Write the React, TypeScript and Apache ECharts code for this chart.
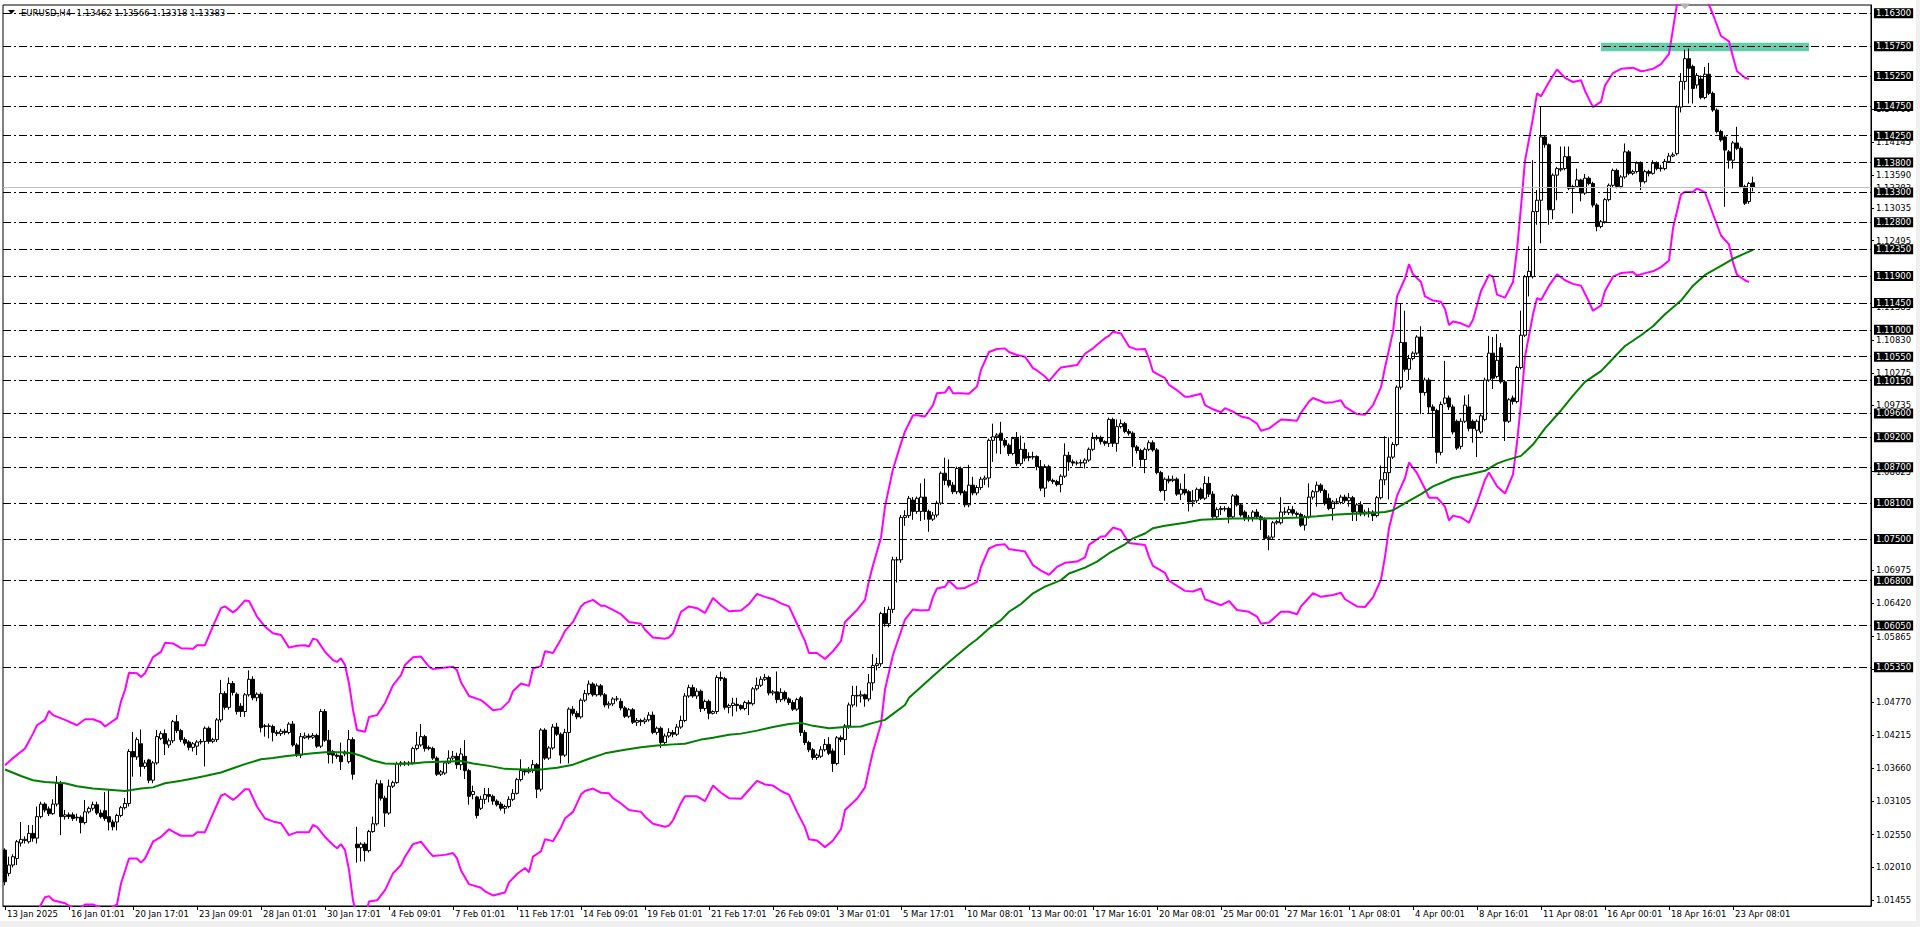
import React, { useEffect, useRef } from "react";
import * as echarts from "echarts";

// ---------- DATA ----------
const TOTAL_SLOTS = 467; // bar slots on the time axis (incl. empty right margin)

const xTickLabels = [
  "13 Jan 2025", "16 Jan 01:01", "20 Jan 17:01", "23 Jan 09:01", "28 Jan 01:01", "30 Jan 17:01",
  "4 Feb 09:01", "7 Feb 01:01", "11 Feb 17:01", "14 Feb 09:01", "19 Feb 01:01", "21 Feb 17:01",
  "26 Feb 09:01", "3 Mar 01:01", "5 Mar 17:01", "10 Mar 08:01", "13 Mar 00:01", "17 Mar 16:01",
  "20 Mar 08:01", "25 Mar 00:01", "27 Mar 16:01", "1 Apr 08:01", "4 Apr 00:01", "8 Apr 16:01",
  "11 Apr 08:01", "16 Apr 00:01", "18 Apr 16:01", "23 Apr 08:01",
];

const priceTicks = [
  1.01455, 1.0201, 1.0255, 1.03105, 1.0366, 1.04215, 1.0477, 1.05325, 1.05865, 1.0642, 1.06975,
  1.08625, 1.09735, 1.10275, 1.1083, 1.11385, 1.12495, 1.13035, 1.1359, 1.14145, 1.147,
];

const levelLines = [
  1.163, 1.1575, 1.1525, 1.1475, 1.1425, 1.138, 1.133, 1.128, 1.1235, 1.119, 1.1145, 1.11,
  1.1055, 1.1015, 1.096, 1.092, 1.087, 1.081, 1.075, 1.068, 1.0605, 1.0535,
];

const bidPrice = 1.13383;
const titleText = "EURUSD,H4  1.13462 1.13566 1.13318 1.13383";

// OHLC per H4 bar, [open, close, low, high] in 1e-4 price units
const ohlcA = [
  [10229,10176,10170,10232],[10190,10204,10185,10218],[10204,10218,10200,10222],[10215,10243,10204,10246],
  [10241,10247,10235,10276],[10245,10247,10240,10252],[10243,10257,10240,10271],[10257,10249,10243,10271],
  [10249,10285,10240,10302],[10285,10306,10282,10310],[10306,10296,10292,10309],[10298,10290,10286,10302],
  [10290,10306,10288,10314],[10306,10341,10302,10353],[10341,10285,10254,10345],[10285,10288,10280,10296],
  [10288,10285,10281,10292],[10288,10282,10278,10292],[10284,10283,10278,10290],[10284,10275,10257,10287],
  [10275,10293,10272,10313],[10293,10299,10290,10302],[10299,10305,10295,10310],[10305,10291,10288,10310],
  [10291,10285,10282,10297],[10295,10282,10278,10326],[10285,10276,10262,10329],[10276,10268,10262,10280],
  [10276,10287,10262,10290],[10287,10300,10284,10303],[10300,10307,10297,10316],[10307,10394,10302,10398],
  [10394,10385,10352,10427],[10385,10414,10380,10418],[10407,10369,10352,10431],[10369,10375,10365,10380],
  [10380,10346,10341,10382],[10346,10375,10341,10378],[10375,10419,10372,10430],[10416,10424,10413,10428],
  [10424,10407,10388,10431],[10405,10412,10400,10416],[10412,10444,10408,10447],[10444,10429,10425,10455],
  [10429,10414,10410,10432],[10414,10408,10404,10418],[10410,10401,10396,10413],[10401,10407,10394,10410],
  [10403,10410,10388,10413],[10410,10411,10406,10415],[10411,10433,10369,10436],[10433,10411,10407,10436],
  [10411,10414,10408,10417],[10414,10447,10410,10450],[10447,10491,10443,10514],[10491,10468,10464,10495],
  [10468,10508,10464,10518],[10508,10493,10488,10512],[10490,10461,10456,10493],[10470,10461,10452,10475],
  [10461,10489,10452,10492],[10489,10515,10486,10530],[10515,10484,10480,10520],[10484,10490,10478,10493],
  [10490,10434,10426,10493],[10437,10436,10419,10440],[10436,10437,10416,10441],[10436,10426,10411,10439],
  [10426,10424,10420,10430],[10424,10428,10420,10432],[10428,10426,10422,10432],[10426,10440,10423,10443],
  [10440,10405,10402,10445],[10405,10388,10385,10408],[10388,10419,10383,10425],[10417,10420,10415,10426],
  [10420,10418,10414,10424],[10418,10421,10415,10425],[10421,10403,10400,10424],[10403,10461,10400,10465],
  [10461,10413,10410,10465],[10413,10389,10374,10430],[10394,10388,10374,10397],[10388,10386,10382,10391],
  [10387,10377,10363,10409],[10390,10393,10386,10396],[10377,10414,10374,10430],[10414,10356,10347,10418],
  [10239,10233,10208,10268],[10233,10239,10210,10242],[10239,10228,10210,10242],[10228,10260,10225,10263],
  [10260,10273,10258,10285],[10273,10340,10270,10347],[10340,10316,10312,10346],[10316,10291,10268,10320],
  [10291,10336,10288,10347],[10336,10342,10333,10345],[10342,10374,10340,10377],[10374,10375,10369,10378],
  [10375,10374,10370,10378],[10374,10375,10370,10378],[10375,10399,10372,10402],[10399,10405,10396,10427],
  [10405,10419,10402,10440],[10419,10399,10394,10422],[10399,10401,10396,10404],[10399,10383,10380,10402],
  [10383,10356,10353,10386],[10356,10360,10353,10363],[10358,10375,10355,10378],[10375,10383,10373,10396],
];

const ohlcB = [
  [10383,10386,10380,10395],[10386,10372,10365,10392],[10372,10390,10363,10400],[10386,10362,10348,10413],
  [10362,10319,10305,10365],[10322,10327,10314,10337],[10318,10287,10282,10320],[10299,10314,10296,10320],
  [10314,10322,10306,10333],[10322,10319,10309,10333],[10319,10311,10305,10322],[10311,10305,10302,10314],
  [10306,10299,10295,10310],[10299,10302,10290,10305],[10302,10314,10299,10319],[10314,10324,10311,10331],
  [10324,10347,10322,10350],[10347,10362,10344,10381],[10362,10360,10354,10365],[10360,10362,10357,10368],
  [10362,10372,10358,10380],[10372,10331,10316,10375],[10331,10430,10327,10433],[10430,10383,10380,10433],
  [10383,10400,10380,10403],[10400,10435,10397,10440],[10435,10423,10420,10442],[10423,10388,10374,10426],
  [10388,10426,10385,10432],[10426,10465,10374,10468],[10465,10458,10454,10470],[10458,10452,10448,10462],
  [10452,10480,10449,10483],[10480,10491,10477,10497],[10491,10507,10488,10513],[10507,10489,10486,10510],
  [10489,10504,10486,10508],[10504,10489,10486,10507],[10489,10472,10468,10492],[10472,10474,10466,10478],
  [10474,10482,10470,10485],[10482,10482,10478,10487],[10478,10467,10463,10483],[10467,10453,10450,10470],
  [10453,10464,10450,10467],[10464,10443,10440,10467],[10443,10446,10437,10450],[10446,10444,10437,10449],
  [10444,10447,10440,10451],[10447,10455,10444,10460],[10455,10426,10423,10461],[10426,10433,10422,10436],
  [10433,10409,10400,10436],[10409,10420,10405,10424],[10420,10426,10417,10433],[10426,10423,10418,10430],
  [10423,10435,10420,10440],[10435,10446,10432,10454],[10446,10487,10443,10492],[10487,10501,10484,10506],
  [10501,10487,10484,10506],[10487,10495,10482,10500],[10495,10466,10460,10498],[10466,10478,10462,10481],
  [10478,10458,10448,10481],[10458,10461,10456,10463],[10461,10518,10457,10522],[10518,10516,10512,10528],
  [10516,10468,10464,10519],[10468,10471,10458,10474],[10471,10475,10453,10484],[10473,10471,10461,10484],
  [10471,10466,10463,10473],[10466,10476,10463,10479],[10476,10474,10455,10480],[10474,10499,10471,10502],
  [10499,10505,10496,10518],[10505,10515,10502,10520],[10515,10518,10512,10524],[10518,10492,10488,10521],
  [10492,10494,10488,10497],[10494,10481,10475,10528],[10481,10493,10477,10500],[10493,10482,10478,10496],
  [10482,10476,10472,10485],[10476,10465,10462,10480],[10465,10481,10462,10484],[10484,10426,10420,10487],
  [10426,10409,10405,10430],[10409,10397,10393,10412],[10397,10384,10380,10400],[10384,10388,10380,10391],
  [10386,10397,10383,10403],[10397,10406,10394,10415],[10406,10391,10388,10418],[10395,10374,10360,10399],
  [10374,10417,10371,10420],[10417,10414,10410,10421],[10414,10437,10388,10440],[10437,10472,10432,10476],
  [10472,10488,10468,10504],[10488,10487,10469,10504],[10487,10489,10476,10496],[10489,10482,10469,10491],
  [10482,10509,10478,10524],[10509,10538,10496,10557],[10538,10541,10530,10551],[10541,10625,10536,10628],
  [10625,10608,10603,10636],[10608,10632,10602,10637],[10632,10715,10626,10720],[10715,10715,10677,10720],
  [10715,10786,10710,10790],[10786,10789,10772,10798],[10789,10818,10785,10822],
];

const ohlcC = [
  [10815,10796,10782,10820],[10796,10818,10792,10821],[10796,10820,10780,10843],[10820,10796,10782,10851],
  [10796,10783,10762,10799],[10783,10790,10780,10795],[10790,10810,10786,10814],[10810,10860,10807,10863],
  [10860,10848,10840,10886],[10848,10840,10836,10883],[10840,10829,10825,10845],[10829,10868,10825,10871],
  [10868,10827,10823,10871],[10829,10807,10803,10832],[10807,10840,10803,10874],[10840,10827,10823,10854],
  [10827,10836,10823,10840],[10836,10850,10832,10854],[10850,10852,10840,10856],[10852,10915,10836,10918],
  [10915,10921,10879,10943],[10921,10924,10893,10927],[10927,10915,10892,10946],[10915,10907,10903,10919],
  [10907,10893,10889,10910],[10893,10918,10890,10921],[10918,10876,10872,10929],[10876,10900,10872,10923],
  [10900,10885,10880,10911],[10888,10886,10880,10895],[10887,10888,10883,10896],[10888,10871,10865,10890],
  [10871,10835,10830,10882],[10835,10871,10820,10875],[10871,10848,10845,10874],[10848,10846,10842,10851],
  [10846,10841,10838,10849],[10841,10855,10828,10858],[10855,10890,10852,10910],[10890,10879,10864,10896],
  [10879,10877,10872,10883],[10877,10877,10873,10881],[10877,10878,10871,10883],[10877,10882,10868,10885],
  [10882,10900,10879,10903],[10900,10918,10897,10928],[10918,10920,10915,10924],[10920,10913,10908,10923],
  [10913,10910,10906,10915],[10910,10950,10904,10953],[10950,10910,10904,10953],[10910,10938,10896,10950],
  [10938,10943,10935,10950],[10943,10930,10927,10946],[10930,10927,10923,10934],[10927,10904,10871,10930],
  [10904,10898,10893,10907],[10898,10883,10871,10901],[10883,10900,10860,10903],[10900,10911,10897,10915],
  [10911,10899,10896,10915],[10899,10861,10858,10902],[10861,10831,10828,10864],[10831,10850,10814,10853],
  [10850,10847,10843,10856],[10848,10850,10845,10856],[10850,10825,10822,10853],[10825,10833,10815,10843],
  [10833,10827,10823,10859],[10829,10812,10796,10832],[10812,10814,10804,10832],[10814,10833,10810,10836],
  [10833,10818,10815,10836],[10818,10843,10815,10855],[10843,10825,10820,10854],[10825,10787,10783,10830],
  [10787,10799,10782,10803],[10799,10801,10790,10805],[10800,10801,10796,10805],[10801,10787,10776,10804],
  [10787,10822,10784,10825],[10822,10807,10804,10825],[10807,10790,10787,10810],[10795,10784,10780,10798],
  [10784,10786,10779,10790],[10786,10795,10779,10798],[10795,10787,10783,10800],[10787,10782,10765,10790],
  [10782,10751,10748,10786],[10751,10753,10731,10756],[10753,10777,10750,10780],[10777,10779,10774,10782],
  [10777,10795,10774,10820],[10795,10795,10790,10803],[10794,10799,10790,10805],[10799,10793,10789,10805],
  [10793,10791,10786,10796],[10791,10773,10770,10794],[10773,10787,10764,10790],[10787,10820,10784,10843],
  [10820,10829,10816,10832],[10829,10840,10804,10846],[10840,10831,10827,10843],[10831,10809,10806,10834],
  [10818,10801,10798,10826],[10801,10812,10781,10815],[10812,10812,10808,10818],
];

const ohlcD = [
  [10811,10820,10808,10824],[10820,10814,10810,10824],[10814,10819,10804,10827],[10819,10795,10780,10822],
  [10795,10807,10780,10810],[10807,10792,10788,10813],[10792,10795,10788,10799],[10795,10795,10786,10802],
  [10795,10789,10780,10798],[10789,10819,10786,10822],[10819,10849,10816,10873],[10849,10861,10840,10922],
  [10861,10887,10816,10920],[10887,10908,10884,10912],[10908,11004,10905,11007],[11004,11079,11000,11144],
  [11079,11034,11030,11132],[11034,11052,11016,11058],[11052,11061,11049,11064],[11061,11088,11058,11091],
  [11088,10995,10959,11106],[10995,11016,10990,11020],[11016,10971,10959,11020],[10971,10965,10920,10975],
  [10965,10895,10876,10968],[10895,10975,10890,10980],[10977,10986,10975,11048],[10986,10971,10966,10990],
  [10971,10929,10925,10975],[10947,10902,10899,10950],[10905,10947,10900,10952],[10947,10974,10944,10990],
  [10971,10935,10930,10992],[10947,10935,10911,10950],[10932,10947,10887,10950],[10929,10956,10926,10960],
  [10950,11016,10947,11020],[11016,11061,11013,11090],[11061,11019,11001,11088],[11022,11049,11019,11093],
  [11070,11013,11010,11078],[11013,10947,10914,11016],[10947,10983,10944,10986],[10986,10980,10975,10990],
  [10980,11037,10977,11040],[11037,11091,11034,11132],[11091,11189,11088,11192],[11189,11198,11156,11240],
  [11189,11298,11186,11384],[11298,11317,11276,11334],[11317,11423,11245,11474],[11423,11410,11405,11426],
  [11410,11301,11276,11412],[11301,11359,11285,11362],[11359,11370,11317,11373],[11368,11370,11365,11407],
  [11370,11390,11367,11407],[11390,11337,11334,11407],[11337,11340,11295,11343],[11340,11351,11338,11370],
  [11351,11329,11315,11353],[11329,11354,11326,11361],[11354,11345,11342,11357],[11345,11309,11305,11348],
  [11309,11273,11265,11312],[11273,11281,11270,11284],[11281,11318,11278,11321],[11318,11342,11315,11345],
  [11342,11367,11339,11370],[11367,11340,11337,11370],[11340,11356,11337,11359],[11356,11398,11353,11412],
  [11398,11362,11359,11401],[11362,11365,11359,11368],[11365,11379,11362,11382],[11379,11348,11334,11382],
  [11348,11365,11345,11368],[11365,11362,11357,11368],[11362,11379,11360,11384],[11379,11370,11367,11382],
  [11370,11371,11365,11376],[11370,11382,11367,11386],[11382,11391,11380,11396],[11391,11393,11389,11397],
  [11395,11473,11392,11476],[11473,11516,11464,11530],[11516,11554,11502,11569],[11554,11538,11479,11571],
  [11541,11504,11479,11544],[11510,11526,11504,11530],[11520,11489,11486,11526],[11489,11528,11486,11540],
  [11528,11496,11493,11547],[11496,11468,11465,11499],[11468,11432,11429,11471],[11432,11418,11415,11435],
  [11423,11401,11306,11426],[11398,11384,11370,11401],[11384,11413,11370,11416],[11413,11404,11401,11440],
  [11404,11340,11337,11407],[11340,11312,11309,11343],[11315,11345,11311,11348],[11346.2,11338.3,11331.8,11356.6],
];

// Moving average (green), [bar, value in 1e-4]
const maLine = [
  [0,10364],[4,10353],[7,10346],[10,10343],[15,10341],[18,10336],[22,10332],[26,10330],[30,10328],[34,10332],
  [37,10334],[40,10341],[44,10345],[47,10349],[50,10353],[54,10359],[57,10366],[60,10373],[64,10381],[67,10383],
  [70,10386],[74,10389],[77,10391],[80,10393],[84,10393],[87,10391],[89,10387],[92,10379],[95,10374],[99,10373],
  [102,10374],[105,10376],[109,10377],[114,10378],[117,10374],[121,10370],[125,10365],[130,10364],[134,10364],
  [138,10367],[142,10372],[146,10382],[150,10391],[155,10397],[159,10401],[163,10404],[167,10406],[170,10407],
  [174,10414],[177,10417],[181,10422],[184,10424],[188,10429],[192,10435],[196,10440],[199,10442],[202,10437],
  [206,10433],[210,10435],[214,10436],[217,10442],[220,10447],[222,10457],[225,10472],[226,10484],[231,10514],
  [236,10544],[241,10572],[243,10582],[246,10600],[249,10614],[251,10628],[254,10641],[257,10659],[260,10670],
  [264,10681],[266,10692],[270,10702],[273,10712],[276,10726],[280,10741],[282,10751],[285,10759],[287,10768],
  [290,10772],[295,10777],[299,10782],[302,10783],[307,10784],[315,10784],[324,10786],[328,10788],[333,10791],
  [337,10792],[341,10793],[345,10795],[347,10798],[350,10810],[354,10825],[357,10838],[362,10852],[366,10858],
  [370,10864],[373,10876],[375,10881],[379,10889],[382,10908],[385,10935],[389,10965],[392,10990],[395,11013],
  [399,11031],[402,11052],[405,11073],[409,11091],[412,11106],[415,11126],[419,11149],[422,11174],[425,11192],
  [429,11207],[432,11219],[435,11228],[437,11234],
];

// Upper envelope (magenta), [bar, value in 1e-4]
const upperBand = [
  [0,10371],[2,10383],[5,10399],[7,10424],[8,10438],[10,10447],[11,10462],[12,10455],[15,10447],[18,10438],
  [20,10448],[22,10448],[24,10443],[25,10436],[28,10450],[29,10478],[30,10497],[31,10526],[33,10525],[34,10519],
  [35,10525],[37,10552],[39,10561],[40,10576],[42,10575],[44,10567],[47,10566],[48,10572],[50,10572],[52,10604],
  [54,10634],[55,10637],[57,10627],[58,10632],[60,10647],[61,10646],[63,10620],[65,10603],[67,10592],[69,10589],
  [71,10568],[73,10571],[75,10572],[76,10570],[77,10583],[78,10581],[80,10561],[82,10547],[83,10544],[84,10550],
  [85,10539],[86,10508],[87,10464],[88,10430],[90,10427],[91,10452],[93,10455],[95,10475],[97,10505],[99,10522],
  [100,10539],[102,10552],[104,10553],[106,10536],[107,10532],[109,10534],[112,10536],[113,10530],[114,10510],
  [116,10487],[119,10480],[120,10475],[122,10463],[124,10465],[126,10478],[127,10495],[129,10508],[131,10504],
  [132,10533],[134,10537],[135,10562],[137,10559],[139,10582],[140,10596],[142,10611],[144,10637],[145,10643],
  [147,10648],[149,10638],[150,10638],[152,10631],[154,10624],[156,10611],[159,10608],[160,10598],[162,10585],
  [165,10583],[166,10585],[167,10592],[169,10628],[171,10637],[173,10634],[175,10626],[177,10651],[179,10639],
  [181,10629],[184,10630],[186,10641],[188,10658],[190,10653],[192,10649],[194,10642],[196,10637],[198,10608],
  [200,10579],[201,10559],[203,10559],[205,10549],[207,10562],[209,10579],[210,10611],[213,10631],[215,10648],
  [216,10680],[217,10706],[219,10752],[220,10804],[222,10867],[224,10910],[225,10930],[227,10957],[228,10957],
  [230,10955],[232,10974],[233,10994],[235,10995],[236,11005],[237,10994],[239,10994],[241,10993],[243,11005],
  [244,11033],[246,11063],[248,11068],[250,11069],[251,11063],[253,11058],[255,11055],[257,11036],[258,11032],
  [260,11022],[261,11014],[263,11030],[264,11037],[268,11041],[270,11060],[272,11069],[273,11075],[275,11086],
  [276,11090],[277,11097],[279,11094],[281,11072],[283,11067],[285,11068],[286,11052],[287,11030],[290,11019],
  [291,11008],[293,10999],[295,10988],[296,10988],[299,10993],[300,10974],[302,10967],[304,10962],[305,10969],
  [307,10963],[309,10955],[311,10952],[313,10943],[314,10931],[316,10935],[319,10950],[321,10949],[323,10948],
  [324,10961],[326,10980],[327,10986],[330,10978],[332,10979],[334,10982],[335,10971],[338,10959],[340,10958],
  [342,10974],[344,11004],[345,11037],[347,11097],[348,11156],[350,11186],[351,11210],[352,11193],[354,11180],
  [355,11156],[357,11149],[359,11147],[360,11135],[361,11108],[362,11114],[364,11111],[366,11105],[367,11117],
  [369,11165],[371,11192],[372,11189],[373,11159],[375,11154],[377,11180],[378,11234],[379,11306],[380,11383],
  [382,11455],[383,11496],[384,11491],[386,11515],[388,11536],[390,11522],[392,11515],[394,11518],[395,11500],
  [397,11473],[399,11482],[400,11509],[402,11530],[404,11537],[407,11539],[409,11533],[410,11534],[412,11537],
  [414,11545],[416,11562],[417,11604],[418,11646],[419,11670],[420,11688],[421,11695],[422,11698],[423,11695],
  [424,11685],[425,11665],[426,11644],[427,11628],[429,11592],[431,11583],[432,11557],[433,11533],[435,11522],
  [436,11520],
];

// Lower envelope (magenta), [bar, value in 1e-4]
const lowerBand = [
  [0,10059],[2,10071],[5,10087],[7,10112],[8,10126],[10,10150],[11,10152],[12,10145],[15,10140],[18,10128],
  [20,10138],[22,10138],[24,10132],[25,10126],[28,10138],[29,10173],[31,10215],[33,10215],[34,10208],[35,10215],
  [37,10243],[39,10251],[41,10264],[42,10260],[44,10253],[47,10253],[48,10259],[50,10259],[52,10290],[54,10320],
  [55,10323],[57,10313],[58,10318],[60,10331],[61,10331],[63,10302],[65,10282],[67,10277],[69,10274],[71,10254],
  [73,10259],[76,10259],[77,10271],[78,10268],[80,10251],[82,10238],[83,10232],[84,10239],[85,10229],[86,10196],
  [87,10145],[88,10118],[90,10115],[91,10143],[93,10145],[95,10162],[97,10190],[99,10204],[100,10218],[102,10239],
  [104,10243],[106,10226],[107,10219],[110,10221],[112,10224],[113,10215],[114,10195],[116,10172],[119,10166],
  [120,10160],[122,10153],[125,10158],[126,10175],[128,10189],[130,10199],[131,10192],[132,10218],[134,10227],
  [135,10247],[137,10244],[139,10267],[140,10282],[142,10293],[144,10322],[145,10328],[147,10332],[149,10325],
  [151,10324],[152,10316],[154,10307],[156,10296],[159,10293],[160,10285],[162,10273],[165,10268],[166,10270],
  [167,10279],[169,10308],[170,10319],[173,10319],[175,10311],[177,10337],[179,10325],[181,10316],[184,10315],
  [186,10330],[188,10345],[190,10339],[192,10337],[194,10328],[196,10322],[198,10293],[200,10267],[201,10247],
  [203,10245],[205,10234],[207,10245],[209,10264],[210,10296],[213,10315],[215,10334],[216,10365],[217,10394],
  [219,10440],[220,10498],[222,10556],[224,10595],[225,10615],[227,10632],[229,10630],[231,10631],[232,10653],
  [233,10667],[235,10670],[236,10680],[238,10667],[240,10668],[243,10678],[244,10703],[246,10734],[248,10740],
  [250,10741],[251,10733],[255,10729],[257,10706],[259,10697],[261,10690],[263,10703],[265,10710],[268,10712],
  [270,10719],[271,10740],[274,10754],[275,10754],[277,10769],[279,10765],[281,10743],[285,10740],[286,10720],
  [287,10705],[290,10693],[291,10680],[295,10663],[297,10662],[299,10667],[300,10649],[304,10639],[306,10646],
  [308,10631],[311,10628],[313,10620],[314,10608],[316,10610],[319,10628],[321,10628],[323,10624],[324,10637],
  [327,10659],[329,10653],[332,10656],[334,10660],[335,10649],[338,10637],[340,10636],[342,10652],[344,10682],
  [345,10720],[346,10768],[348,10822],[350,10852],[351,10878],[353,10860],[355,10834],[356,10819],[358,10819],
  [360,10804],[361,10781],[362,10789],[364,10786],[366,10777],[368,10810],[370,10849],[371,10861],[373,10838],
  [375,10826],[377,10858],[378,10911],[379,10977],[380,11055],[382,11126],[383,11153],[384,11150],[386,11174],
  [388,11193],[390,11183],[392,11177],[394,11174],[396,11147],[397,11132],[399,11141],[400,11165],[402,11189],
  [404,11195],[407,11197],[408,11191],[410,11195],[412,11198],[414,11205],[416,11216],[417,11270],[419,11327],
  [420,11331],[422,11331],[423,11337],[425,11330],[427,11294],[429,11258],[431,11243],[432,11213],[433,11192],
  [435,11183],[436,11180],
];

// Teal zone and short solid level segments
const zoneBars = [399, 451];
const zonePrices = [1.15806, 1.15666];
const solidSegments = [
  [1.1475, 384, 418],
  [1.1425, 390, 394],
  [1.138, 396, 401],
  [1.138, 402, 408],
];
const chartShiftMarker = [420, 1.16414];

const Y_MIN = 1.01354;
const Y_MAX = 1.16439;

const FONT = "DejaVu Sans";

export default function App() {
  const ref = useRef<HTMLDivElement>(null);

  useEffect(() => {
    if (!ref.current) return;
    const chart = echarts.init(ref.current, undefined, { renderer: "svg" });

    const candles = [...ohlcA, ...ohlcB, ...ohlcC, ...ohlcD].map((r) => r.map((v) => v / 10000));
    const toPts = (arr: number[][]) => arr.map(([i, v]) => [i, v / 10000]);
    const cats = Array.from({ length: TOTAL_SLOTS }, (_, i) => String(i));
    const showTick = (i: number) => i % 16 === 0 && i / 16 < xTickLabels.length;

    const option: any = {
      animation: false,
      backgroundColor: "#ffffff",
      grid: {
        left: 3,
        right: 49,
        top: 5,
        bottom: 21,
        show: true,
        borderColor: "#000",
        borderWidth: 1,
        backgroundColor: "transparent",
      },
      xAxis: {
        type: "category",
        data: cats,
        boundaryGap: true,
        axisLine: { show: true, lineStyle: { color: "#000", width: 1 } },
        axisTick: {
          show: true,
          interval: (i: number) => showTick(i),
          alignWithLabel: true,
          length: 4,
          lineStyle: { color: "#000" },
        },
        axisLabel: {
          interval: (i: number) => showTick(i),
          formatter: (_v: string, i: number) => xTickLabels[i / 16] ?? "",
          align: "left",
          margin: 3,
          padding: [0, 0, 0, 2],
          fontSize: 8.5,
          fontFamily: FONT,
          color: "#000",
        },
        splitLine: { show: false },
      },
      yAxis: {
        type: "value",
        position: "right",
        min: Y_MIN,
        max: Y_MAX,
        axisLine: { show: true, lineStyle: { color: "#000", width: 1 } },
        axisTick: { show: true, customValues: priceTicks, length: 3, lineStyle: { color: "#000" } },
        axisLabel: {
          customValues: priceTicks,
          formatter: (v: number) => v.toFixed(5),
          margin: 5,
          fontSize: 8.5,
          fontFamily: FONT,
          color: "#000",
        },
        splitLine: { show: false },
      },
      graphic: [
        { type: "rect", shape: { x: 0, y: 921, width: 1920, height: 6 }, style: { fill: "#f0f0f0" }, silent: true },
        { type: "rect", shape: { x: 1916, y: 0, width: 4, height: 927 }, style: { fill: "#f0f0f0" }, silent: true },
        {
          type: "polygon",
          shape: { points: [[8, 10], [15, 10], [11.5, 14]] },
          style: { fill: "#000" },
          silent: true,
        },
        {
          type: "text",
          x: 21,
          y: 8,
          style: { text: titleText, font: `8.5px "${FONT}"`, fill: "#000" },
          silent: true,
        },
      ],
      series: [
        {
          name: "zone",
          type: "line",
          data: [],
          silent: true,
          z: 1,
          markArea: {
            silent: true,
            itemStyle: { color: "#66cdaa", opacity: 1 },
            data: [[{ coord: [zoneBars[0], zonePrices[0]] }, { coord: [zoneBars[1], zonePrices[1]] }]],
          },
        },
        {
          name: "bid",
          type: "line",
          data: [],
          silent: true,
          z: 1,
          markLine: {
            silent: true,
            precision: 5,
            symbol: ["none", "none"],
            lineStyle: { color: "#c0c0c0", width: 1, type: "solid" },
            label: {
              show: true,
              position: "end",
              distance: 5,
              formatter: (p: any) => Number(p.value).toFixed(5),
              color: "#000",
              fontSize: 8.5,
              fontFamily: FONT,
            },
            data: [{ yAxis: bidPrice }],
          },
        },
        {
          name: "levels",
          type: "line",
          data: [],
          silent: true,
          z: 2,
          markLine: {
            silent: true,
            precision: 5,
            symbol: ["none", "none"],
            lineStyle: { color: "#000", width: 1, type: [8, 3, 2, 3] },
            label: {
              show: true,
              position: "end",
              distance: 3,
              formatter: (p: any) => Number(p.value).toFixed(5),
              backgroundColor: "#000",
              color: "#fff",
              fontSize: 8.5,
              fontFamily: FONT,
              padding: [1, 2, 0, 2],
            },
            data: levelLines.map((v) => ({ yAxis: v })),
          },
        },
        {
          name: "segments",
          type: "line",
          data: [],
          silent: true,
          z: 2,
          markLine: {
            silent: true,
            precision: 5,
            symbol: ["none", "none"],
            lineStyle: { color: "#000", width: 1, type: "solid" },
            label: { show: false },
            data: solidSegments.map(([p, a, b]) => [{ coord: [a, p] }, { coord: [b, p] }]),
          },
        },
        {
          name: "EURUSD",
          type: "candlestick",
          data: candles,
          barWidth: 2.6,
          z: 3,
          itemStyle: {
            color: "#ffffff",
            color0: "#000000",
            borderColor: "#000000",
            borderColor0: "#000000",
            borderWidth: 1,
          },
        },
        {
          name: "upper",
          type: "line",
          data: toPts(upperBand),
          showSymbol: false,
          clip: true,
          z: 4,
          lineStyle: { color: "#ff00ff", width: 2 },
        },
        {
          name: "lower",
          type: "line",
          data: toPts(lowerBand),
          showSymbol: false,
          clip: true,
          z: 4,
          lineStyle: { color: "#ff00ff", width: 2 },
        },
        {
          name: "ma",
          type: "line",
          data: toPts(maLine),
          showSymbol: false,
          clip: true,
          z: 4,
          lineStyle: { color: "#008000", width: 2 },
          markPoint: {
            silent: true,
            symbol: "triangle",
            symbolRotate: 180,
            symbolSize: [10, 6],
            itemStyle: { color: "#b4b4b4" },
            label: { show: false },
            data: [{ coord: chartShiftMarker }],
          },
        },
      ],
    };

    chart.setOption(option);
    return () => chart.dispose();
  }, []);

  return (
    <div
      ref={ref}
      style={{ position: "fixed", left: 0, top: 0, width: 1920, height: 927, background: "#fff" }}
    />
  );
}
